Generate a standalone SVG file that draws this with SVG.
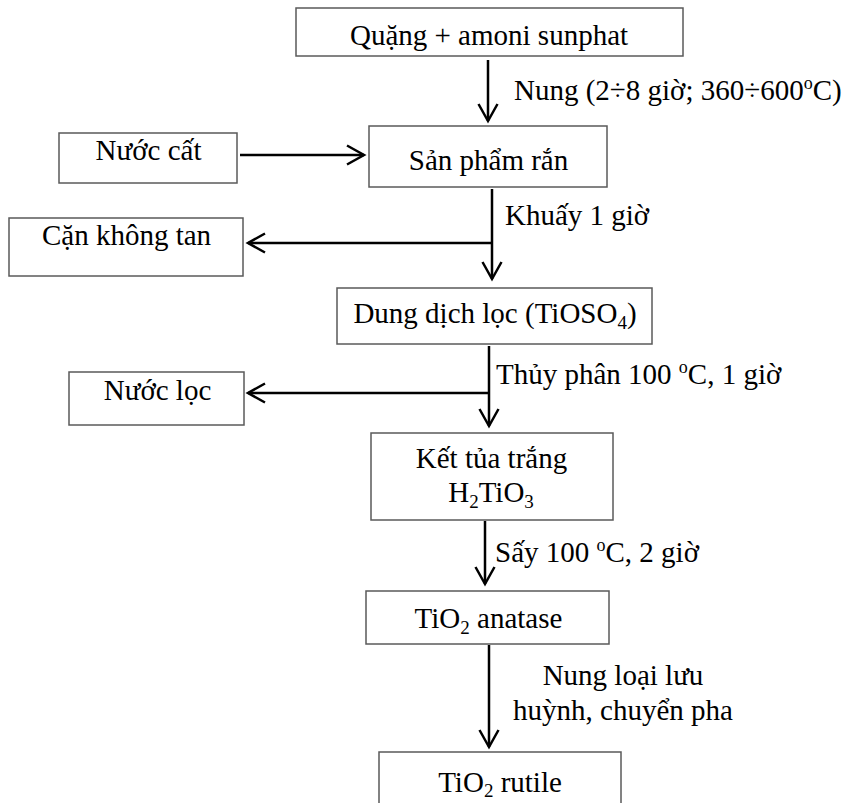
<svg xmlns="http://www.w3.org/2000/svg" width="846" height="803" viewBox="0 0 846 803">
<defs>
<style>
text{font-family:"Liberation Serif","Times New Roman",serif;font-size:29px;fill:#000}
.c{text-anchor:middle}
.box{fill:#fff;stroke:#5a5a5a;stroke-width:1.5}
.ln{fill:none;stroke:#000;stroke-width:2.5}
.sub{font-size:19px}
.sup{font-size:18px}
</style>
<marker id="ah" markerUnits="userSpaceOnUse" viewBox="-20 -12 22 24" refX="0" refY="0" markerWidth="22" markerHeight="24" orient="auto" overflow="visible">
<path d="M-17,-9.5 L0,0 L-17,9.5" fill="none" stroke="#000" stroke-width="2.5"/>
</marker>
</defs>
<rect width="846" height="803" fill="#fff"/>
<g id="connectors">
<line class="ln" x1="488" y1="60" x2="488" y2="121" marker-end="url(#ah)"/>
<line class="ln" x1="240" y1="155" x2="364" y2="155" marker-end="url(#ah)"/>
<line class="ln" x1="492" y1="189" x2="492" y2="279" marker-end="url(#ah)"/>
<line class="ln" x1="492" y1="243" x2="248" y2="243" marker-end="url(#ah)"/>
<line class="ln" x1="489" y1="346" x2="489" y2="426" marker-end="url(#ah)"/>
<line class="ln" x1="489" y1="393" x2="248" y2="393" marker-end="url(#ah)"/>
<line class="ln" x1="485" y1="521" x2="485" y2="584" marker-end="url(#ah)"/>
<line class="ln" x1="489" y1="645" x2="489" y2="747" marker-end="url(#ah)"/>
<text x="514" y="100">Nung (2÷8 giờ; 360÷600<tspan class="sup" dy="-11">o</tspan><tspan dy="11">C)</tspan></text>
<text x="505" y="225">Khuấy 1 giờ</text>
<text x="496" y="384">Thủy phân 100 <tspan class="sup" dy="-11">o</tspan><tspan dy="11">C, 1 giờ</tspan></text>
<text x="495" y="562">Sấy 100 <tspan class="sup" dy="-11">o</tspan><tspan dy="11">C, 2 giờ</tspan></text>
<text class="c" x="623" y="685">Nung loại lưu</text>
<text class="c" x="623" y="720">huỳnh, chuyển pha</text>
</g>
<g id="quang">
<rect class="box" x="296" y="8" width="387" height="48"/>
<text class="c" x="489" y="45">Quặng + amoni sunphat</text>
</g>
<g id="nuoc-cat">
<rect class="box" x="59" y="133" width="178" height="50"/>
<text class="c" x="148.5" y="160">Nước cất</text>
</g>
<g id="san-pham-ran">
<rect class="box" x="369" y="126" width="238" height="61"/>
<text class="c" x="488.5" y="170">Sản phẩm rắn</text>
</g>
<g id="can-khong-tan">
<rect class="box" x="9" y="218" width="234" height="58"/>
<text class="c" x="126.5" y="245">Cặn không tan</text>
</g>
<g id="dung-dich-loc">
<rect class="box" x="337" y="288" width="315" height="56"/>
<text class="c" x="495" y="323">Dung dịch lọc (TiOSO<tspan class="sub" dy="6">4</tspan><tspan dy="-6">)</tspan></text>
</g>
<g id="nuoc-loc">
<rect class="box" x="69" y="372" width="175" height="53"/>
<text class="c" x="157.5" y="400">Nước lọc</text>
</g>
<g id="ket-tua-trang">
<rect class="box" x="371" y="433" width="242" height="87"/>
<text class="c" x="491.5" y="468">Kết tủa trắng</text>
<text class="c" x="491" y="502">H<tspan class="sub" dy="6">2</tspan><tspan dy="-6">TiO</tspan><tspan class="sub" dy="6">3</tspan></text>
</g>
<g id="tio2-anatase">
<rect class="box" x="366" y="591" width="243" height="53"/>
<text class="c" x="488.5" y="628">TiO<tspan class="sub" dy="6">2</tspan><tspan dy="-6"> anatase</tspan></text>
</g>
<g id="tio2-rutile">
<rect class="box" x="379" y="752" width="242" height="60"/>
<text class="c" x="500" y="792">TiO<tspan class="sub" dy="5">2</tspan><tspan dy="-5"> rutile</tspan></text>
</g>
</svg>
